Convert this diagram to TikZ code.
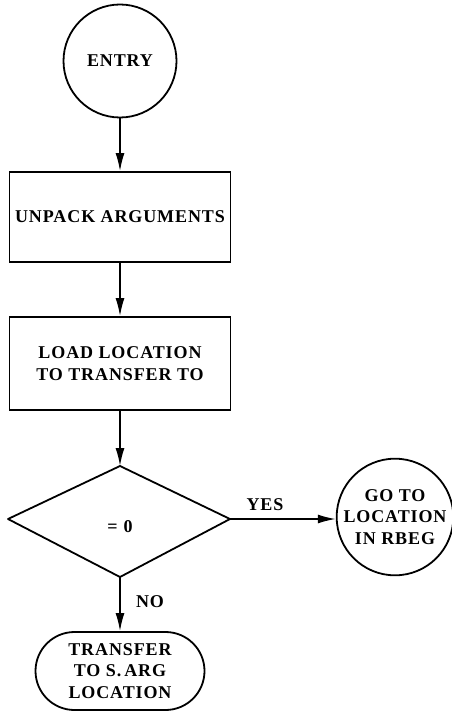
\documentclass[tikz,border=0pt]{standalone}
\usepackage{fontspec}
\setmainfont{Liberation Serif}
\usetikzlibrary{shapes.geometric,shapes.misc,arrows.meta}
\newfontfamily\chartfont[LetterSpace=5]{Liberation Serif}
\begin{document}
\begin{tikzpicture}[x=1pt,y=-1pt,
  every node/.style={font=\chartfont\bfseries\fontsize{18}{21.5}\selectfont, align=center, line width=1.8pt, inner sep=0pt},
  flow/.style={line width=1.6pt, -{Latex[length=18pt,width=9pt]}},
  lbl/.style={draw=none}]
\useasboundingbox (0,0) rectangle (451,711);
% start circle
\node[draw, circle, minimum size=113pt] (entry) at (120,61) {ENTRY};
% processing boxes
\node[draw, rectangle, minimum width=221pt, minimum height=90pt] (unpack) at (120,217) {UNPACK ARGUMENTS};
\node[draw, rectangle, minimum width=221pt, minimum height=93pt] (load) at (120,363.5) {LOAD LOCATION\\TO TRANSFER TO};
% decision
\coordinate (dtop) at (120,466);
\coordinate (dleft) at (8,519);
\coordinate (dright) at (230,519);
\coordinate (dbot) at (120,577);
\draw[line width=1.8pt, line join=round] (dtop) -- (dright) -- (dbot) -- (dleft) -- cycle;
\node (test) at (120,527) {=\hspace{6pt}0};
% exits
\node[draw, circle, minimum size=113pt] (goto) at (395,517) {GO TO\\LOCATION\\IN RBEG};
\node[draw, rounded rectangle, minimum width=169pt, minimum height=78pt] (xfer) at (120,671) {TRANSFER\\TO S.\,ARG\\LOCATION};
% connectors
\draw[flow] (entry.south) -- (unpack.north);
\draw[flow] (unpack.south) -- (load.north);
\draw[flow] (load.south) -- (dtop);
\draw[flow] (dright) -- (goto.west |- dright);
\draw[flow] (dbot) -- (xfer.north);
% branch labels
\node[lbl] (yes) at (265,505) {YES};
\node[lbl] (no) at (150,602) {NO};
\end{tikzpicture}
\end{document}
